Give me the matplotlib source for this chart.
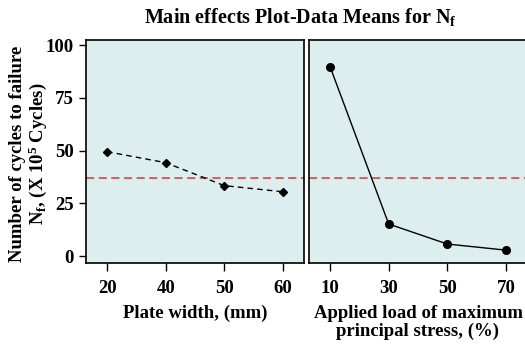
import matplotlib
matplotlib.use("Agg")
import matplotlib.pyplot as plt

plt.rcParams['font.family'] = ['Liberation Serif', 'DejaVu Serif']
plt.rcParams['font.weight'] = 'bold'
plt.rcParams['mathtext.fontset'] = 'custom'
plt.rcParams['mathtext.rm'] = 'Liberation Serif:bold'
plt.rcParams['mathtext.it'] = 'Liberation Serif:bold'
plt.rcParams['mathtext.bf'] = 'Liberation Serif:bold'

width_labels = ['20', '40', '50', '60']
width_means = [49.5, 44.3, 33.4, 30.5]
load_labels = ['10', '30', '50', '70']
load_means = [89.8, 15.2, 5.7, 2.8]
grand_mean = 37.0
y_ticks = [0, 25, 50, 75, 100]

W, H = 525, 347
fig = plt.figure(figsize=(W/100, H/100), dpi=100)
bg = '#ddeeee'

def make_ax(x0, x1, y0, y1):
    return fig.add_axes([x0/W, (H-y1)/H, (x1-x0)/W, (y1-y0)/H])

ax1 = make_ax(86, 304, 40, 263)
ax2 = make_ax(309, 527, 40, 263)

pos = [1, 2, 3, 4]
for ax in (ax1, ax2):
    ax.set_facecolor(bg)
    ax.set_xlim(0.64, 4.36)
    ax.set_ylim(-3.3, 102.5)
    ax.axhline(grand_mean, color='#d9534f', linestyle=(0, (4.5, 2.5)), linewidth=1.3, zorder=1)
    for s in ax.spines.values():
        s.set_linewidth(1.2)
    ax.tick_params(axis='x', direction='out', length=6, width=1, pad=6, labelsize=13.5)

ax1.plot(pos, width_means, color='black', linestyle=(0, (4, 3)), linewidth=1,
         marker='D', markersize=4, zorder=3)
ax2.plot(pos, load_means, color='black', linestyle='-', linewidth=1,
         marker='o', markersize=5.5, zorder=3)

ax1.set_xticks(pos)
ax1.set_xticklabels(width_labels)
ax2.set_xticks(pos)
ax2.set_xticklabels(load_labels)

ax1.set_yticks(y_ticks)
ax1.set_yticklabels([str(v) for v in y_ticks])
ax1.tick_params(axis='y', direction='out', length=5, width=1, pad=4, labelsize=13.5)
ax2.set_yticks([])

ax1.set_xlabel('Plate width, (mm)', fontsize=13.5, fontweight='bold', labelpad=6)
ax2.set_xlabel('Applied load of maximum\nprincipal stress, (%)', fontsize=13.5,
               fontweight='bold', labelpad=6, linespacing=1.05)

fig.text(29/W, 1 - 154/H,
         'Number of cycles to failure\nN$_\\mathrm{f}$, (X 10$^5$ Cycles)',
         rotation=90, ha='center', va='center', multialignment='center',
         fontsize=13.5, fontweight='bold', linespacing=1.05)

fig.text(300/W, 1 - 17/H, 'Main effects Plot-Data Means for N$_\\mathrm{f}$',
         ha='center', va='center', fontsize=14.5, fontweight='bold')

fig.savefig('out.png', dpi=100)
